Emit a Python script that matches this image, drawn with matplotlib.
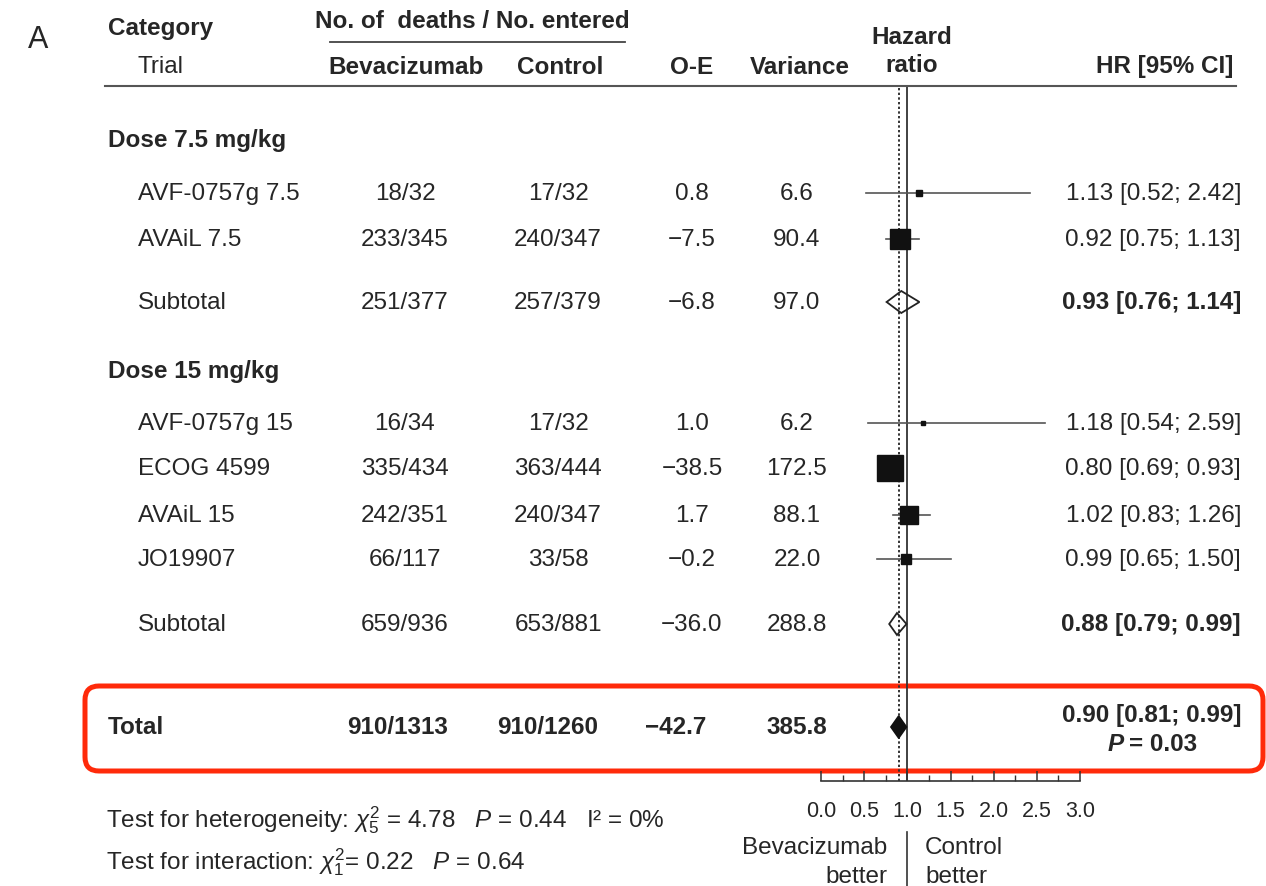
import numpy as np
import matplotlib
matplotlib.use("Agg")
import matplotlib.pyplot as plt
from matplotlib.patches import Polygon, FancyBboxPatch

plt.rcParams['font.family'] = ['Liberation Sans', 'DejaVu Sans']
plt.rcParams['mathtext.fontset'] = 'custom'
plt.rcParams['mathtext.rm'] = 'Liberation Sans'
plt.rcParams['mathtext.it'] = 'Liberation Sans:italic'
plt.rcParams['mathtext.bf'] = 'Liberation Sans:bold'

# data
labels = ["AVF-0757g 7.5", "AVAiL 7.5", "Subtotal",
          "AVF-0757g 15", "ECOG 4599", "AVAiL 15", "JO19907", "Subtotal", "Total"]
kind = ["trial", "trial", "sub", "trial", "trial", "trial", "trial", "sub", "total"]
bev = ["18/32", "233/345", "251/377", "16/34", "335/434", "242/351", "66/117", "659/936", "910/1313"]
ctrl = ["17/32", "240/347", "257/379", "17/32", "363/444", "240/347", "33/58", "653/881", "910/1260"]
oe = [0.8, -7.5, -6.8, 1.0, -38.5, 1.7, -0.2, -36.0, -42.7]
var = [6.6, 90.4, 97.0, 6.2, 172.5, 88.1, 22.0, 288.8, 385.8]
hr = [1.13, 0.92, 0.93, 1.18, 0.80, 1.02, 0.99, 0.88, 0.90]
lo = [0.52, 0.75, 0.76, 0.54, 0.69, 0.83, 0.65, 0.79, 0.81]
hi = [2.42, 1.13, 1.14, 2.59, 0.93, 1.26, 1.50, 0.99, 0.99]
groups = ["Dose 7.5 mg/kg", "Dose 15 mg/kg"]
total_p = "0.03"
xticks = [0.0, 0.5, 1.0, 1.5, 2.0, 2.5, 3.0]

# layout (pixel rows)
row_y = [194, 240, 303, 424, 469, 516, 560, 625, 728]
group_y = [141, 372]
W, H = 1266, 887
TXT = '#262626'
FS = 17.5

fig = plt.figure(figsize=(W / 100, H / 100), dpi=100)
ax = fig.add_axes([0, 0, 1, 1])
ax.set_xlim(0, W)
ax.set_ylim(H, 0)
ax.axis('off')

x0px, x3px, axis_y, top_y = 821, 1080, 782, 88
fx = fig.add_axes([x0px / W, (H - axis_y) / H, (x3px - x0px) / W, (axis_y - top_y) / H])
fx.set_xlim(0, 3)
fx.set_ylim(axis_y, top_y)
fx.patch.set_alpha(0)
for s in ['top', 'left', 'right']:
    fx.spines[s].set_visible(False)
fx.spines['bottom'].set_color('#333333')
fx.spines['bottom'].set_linewidth(1.2)
fx.set_yticks([])
fx.set_xticks(xticks)
fx.set_xticklabels([f"{t:.1f}" for t in xticks])
fx.set_xticks(np.arange(0.25, 3, 0.5), minor=True)
fx.tick_params(axis='x', which='major', direction='in', length=7, width=1.1,
               color='#333333', labelsize=15.5, labelcolor=TXT, pad=14)
fx.tick_params(axis='x', which='minor', direction='in', length=4, width=1, color='#333333')

# reference lines
fx.axvline(1.0, color='#333333', lw=1.3, zorder=1)
fx.axvline(hr[-1], color='#333333', lw=1.4, ls=(0, (1.2, 1.2)), zorder=1)
fx.plot([1.0, 1.0], [833, 887], color='#333333', lw=1.2, clip_on=False)

# markers
for i in range(len(labels)):
    y = row_y[i]
    if kind[i] == "trial":
        fx.plot([lo[i], hi[i]], [y, y], color='#555555', lw=1.2, zorder=2, clip_on=False)
        fx.plot(hr[i], y, marker='s', ms=1.44 * np.sqrt(var[i]), color='#111111',
                mec='#111111', zorder=3, clip_on=False)
    else:
        dh = 11
        pts = [(lo[i], y), (hr[i], y - dh), (hi[i], y), (hr[i], y + dh)]
        if kind[i] == "sub":
            fx.add_patch(Polygon(pts, closed=True, fc='none', ec='#222222', lw=1.3, zorder=3))
        else:
            fx.add_patch(Polygon(pts, closed=True, fc='#111111', ec='#111111', lw=1.2, zorder=3))

# header
ax.text(28, 40, "A", fontsize=22, color=TXT, ha='left', va='center')
ax.text(108, 28, "Category", fontsize=FS, fontweight='bold', color=TXT, va='center')
ax.text(138, 67, "Trial", fontsize=FS, color=TXT, va='center')
ax.text(472, 22, "No. of  deaths / No. entered", fontsize=FS, fontweight='bold', color=TXT,
        ha='center', va='center')
ax.plot([330, 625], [43, 43], color='#444444', lw=1.3)
for x, t in [(406, "Bevacizumab"), (560, "Control"), (692, "O-E"), (800, "Variance")]:
    ax.text(x, 67, t, fontsize=FS, fontweight='bold', color=TXT, ha='center', va='center')
ax.text(912, 37, "Hazard", fontsize=FS, fontweight='bold', color=TXT, ha='center', va='center')
ax.text(912, 66, "ratio", fontsize=FS, fontweight='bold', color=TXT, ha='center', va='center')
ax.text(1233, 67, "HR [95% CI]", fontsize=FS, fontweight='bold', color=TXT, ha='right', va='center')
ax.plot([105, 1236], [87, 87], color='#555555', lw=1.5)

for g, gy in zip(groups, group_y):
    ax.text(108, gy, g, fontsize=FS, fontweight='bold', color=TXT, va='center')

# table rows
for i in range(len(labels)):
    y = row_y[i]
    tot = kind[i] == "total"
    fw = 'bold' if tot else 'normal'
    lx = 108 if tot else 138
    ax.text(lx, y, labels[i], fontsize=FS, fontweight=fw, color=TXT, va='center')
    cb, cc, co, cv = (398, 548, 676, 797) if tot else (405, 558, 692, 797)
    ax.text(cb, y, bev[i], fontsize=FS, fontweight=fw, color=TXT, ha='center', va='center')
    ax.text(cc, y, ctrl[i], fontsize=FS, fontweight=fw, color=TXT, ha='center', va='center')
    ax.text(co, y, f"{oe[i]:.1f}".replace("-", "\u2212"), fontsize=FS, fontweight=fw,
            color=TXT, ha='center', va='center')
    ax.text(cv, y, f"{var[i]:.1f}", fontsize=FS, fontweight=fw, color=TXT, ha='center', va='center')
    hr_txt = f"{hr[i]:.2f} [{lo[i]:.2f}; {hi[i]:.2f}]"
    hw = 'normal' if kind[i] == "trial" else 'bold'
    hy = y - 12 if tot else y
    ax.text(1241, hy, hr_txt, fontsize=FS, fontweight=hw, color=TXT, ha='right', va='center')
    if tot:
        ax.text(1124, y + 17, "P", fontsize=FS, fontweight='bold', fontstyle='italic',
                color=TXT, ha='right', va='center')
        ax.text(1129, y + 17, "= " + total_p, fontsize=FS, fontweight='bold', color=TXT,
                ha='left', va='center')

# highlight box around total
ax.add_patch(FancyBboxPatch((85, 687), 1178, 85, boxstyle="round,pad=0,rounding_size=14",
                            fc='none', ec='#ff2a0a', lw=3.6, zorder=5))

# bottom notes
ax.text(887, 848, "Bevacizumab", fontsize=FS, color=TXT, ha='right', va='center')
ax.text(887, 877, "better", fontsize=FS, color=TXT, ha='right', va='center')
ax.text(925, 848, "Control", fontsize=FS, color=TXT, ha='left', va='center')
ax.text(925, 877, "better", fontsize=FS, color=TXT, ha='left', va='center')

ax.text(106, 820, r"Test for heterogeneity: $\chi^2_5$ = 4.78   $P$ = 0.44   I² = 0%",
        fontsize=FS, color=TXT, ha='left', va='center')
ax.text(106, 862, r"Test for interaction: $\chi^2_1$= 0.22   $P$ = 0.64",
        fontsize=FS, color=TXT, ha='left', va='center')

fig.savefig("out.png", dpi=100)
